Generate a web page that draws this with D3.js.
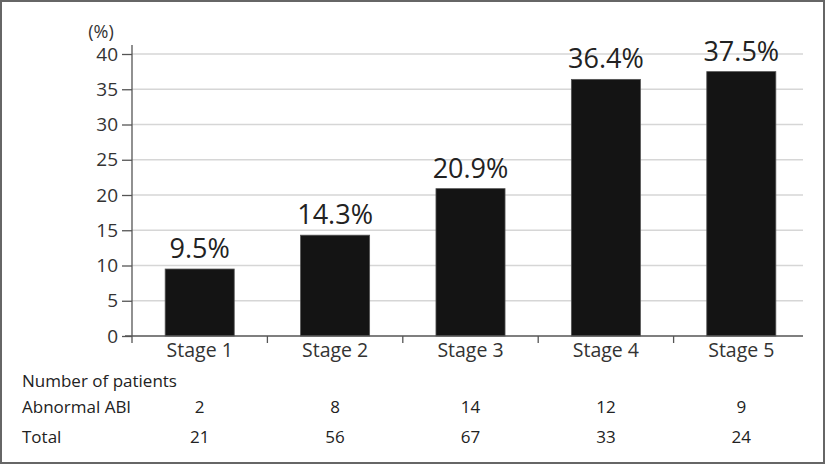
<!DOCTYPE html>
<html><head><meta charset="utf-8">
<script src="https://cdn.jsdelivr.net/npm/d3@7/dist/d3.min.js"></script>
<style>body{margin:0;background:#fff}svg{display:block}</style>
</head><body>
<svg id="c" width="826" height="465"></svg>
<script>
const categories = ["Stage 1","Stage 2","Stage 3","Stage 4","Stage 5"];
const percents = [9.5, 14.3, 20.9, 36.4, 37.5];
const abnormalABI = [2, 8, 14, 12, 9];
const totals = [21, 56, 67, 33, 24];
const yTicks = [0,5,10,15,20,25,30,35,40];

const svg = d3.select("#c");
const font = "'Open Sans', 'Noto Sans', sans-serif";
svg.append("rect").attr("x",1).attr("y",1).attr("width",823).attr("height",462)
  .attr("fill","#fff").attr("stroke","#666").attr("stroke-width",2);

const x = d3.scaleBand().domain(categories).range([132, 809]).paddingInner(0.49).paddingOuter(0.245);
const y = d3.scaleLinear().domain([0, 40]).range([336, 54]);
const axisRight = 803;

// gridlines
svg.append("g").selectAll("line").data(yTicks.filter(d=>d>0)).join("line")
  .attr("x1",132).attr("x2",axisRight).attr("y1",d=>y(d)).attr("y2",d=>y(d))
  .attr("stroke","#d6d6d6").attr("stroke-width",1.5);

// bars
svg.append("g").selectAll("rect").data(percents).join("rect")
  .attr("x",(d,i)=>x(categories[i])).attr("width",x.bandwidth())
  .attr("y",d=>y(d)).attr("height",d=>y(0)-y(d))
  .attr("fill","#141414").attr("stroke","#555").attr("stroke-width",0.8);

// value labels
svg.append("g").selectAll("text").data(percents).join("text")
  .attr("x",(d,i)=>x(categories[i])+x.bandwidth()/2).attr("y",d=>y(d)-11)
  .attr("text-anchor","middle").attr("font-family",font).attr("font-size",27)
  .attr("fill","#222").text(d=>d.toFixed(1)+"%");

// y axis
const yAxis = d3.axisLeft(y).tickValues(yTicks).tickSize(10).tickPadding(4).tickSizeOuter(0);
const yg = svg.append("g").attr("transform","translate(132,0)").call(yAxis);
yg.select(".domain").remove();
yg.selectAll(".tick line").attr("stroke","#555").attr("stroke-width",1.3);
yg.selectAll(".tick text").attr("font-family",font).attr("font-size",19).attr("fill","#333");
svg.append("line").attr("x1",132).attr("x2",132).attr("y1",45).attr("y2",336)
  .attr("stroke","#555").attr("stroke-width",1.3);

// x axis
const xg = svg.append("g").attr("transform","translate(0,336)")
  .call(d3.axisBottom(x).tickSize(0).tickPadding(7));
xg.select(".domain").remove();
xg.selectAll(".tick text").attr("font-family",font).attr("font-size",19.5).attr("fill","#333");
svg.append("line").attr("x1",125).attr("x2",axisRight).attr("y1",336).attr("y2",336)
  .attr("stroke","#555").attr("stroke-width",1.3);
// boundary ticks
const bounds = categories.map(c=>x(c)-(x.step()-x.bandwidth())/2);
svg.append("g").selectAll("line").data(bounds).join("line")
  .attr("x1",d=>d).attr("x2",d=>d).attr("y1",336).attr("y2",343)
  .attr("stroke","#555").attr("stroke-width",1.3);

// (%) label
svg.append("text").attr("x",101).attr("y",38).attr("text-anchor","middle")
  .attr("font-family",font).attr("font-size",18).attr("fill","#333").text("(%)");

// table
const rowLabel = (t,yy)=>svg.append("text").attr("x",22).attr("y",yy)
  .attr("font-family",font).attr("font-size",17).attr("fill","#222").text(t);
rowLabel("Number of patients",387);
rowLabel("Abnormal ABI",413);
rowLabel("Total",443);
const rowVals = (arr,yy)=>svg.append("g").selectAll("text").data(arr).join("text")
  .attr("x",(d,i)=>x(categories[i])+x.bandwidth()/2).attr("y",yy)
  .attr("text-anchor","middle").attr("font-family",font).attr("font-size",17)
  .attr("fill","#222").text(d=>d);
rowVals(abnormalABI,413);
rowVals(totals,443);
</script>
</body></html>
